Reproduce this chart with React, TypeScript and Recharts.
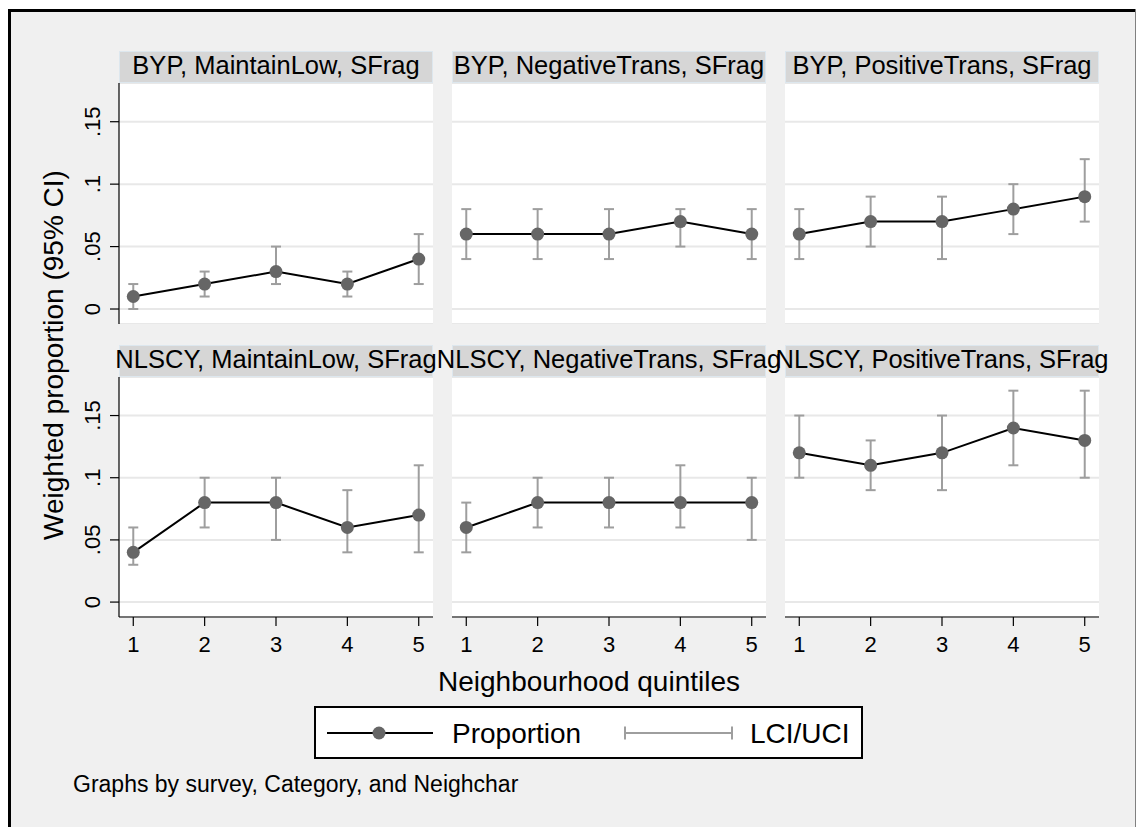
import React from 'react';
import { ComposedChart, Line, Scatter, ErrorBar, XAxis, YAxis, CartesianGrid } from 'recharts';

const FONT = '"Liberation Sans", Arial, Helvetica, sans-serif';

const quintiles = [1, 2, 3, 4, 5];
const yTicks = [0, 0.05, 0.1, 0.15];
const yTickLabels = ['0', '.05', '.1', '.15'];

const panelTitles = [
  'BYP, MaintainLow, SFrag',
  'BYP, NegativeTrans, SFrag',
  'BYP, PositiveTrans, SFrag',
  'NLSCY, MaintainLow, SFrag',
  'NLSCY, NegativeTrans, SFrag',
  'NLSCY, PositiveTrans, SFrag',
];

// weighted proportions and 95% CI per panel
const bypMaintainLowProp = [0.01, 0.02, 0.03, 0.02, 0.04];
const bypMaintainLowLci = [0.0, 0.01, 0.02, 0.01, 0.02];
const bypMaintainLowUci = [0.02, 0.03, 0.05, 0.03, 0.06];

const bypNegativeTransProp = [0.06, 0.06, 0.06, 0.07, 0.06];
const bypNegativeTransLci = [0.04, 0.04, 0.04, 0.05, 0.04];
const bypNegativeTransUci = [0.08, 0.08, 0.08, 0.08, 0.08];

const bypPositiveTransProp = [0.06, 0.07, 0.07, 0.08, 0.09];
const bypPositiveTransLci = [0.04, 0.05, 0.04, 0.06, 0.07];
const bypPositiveTransUci = [0.08, 0.09, 0.09, 0.1, 0.12];

const nlscyMaintainLowProp = [0.04, 0.08, 0.08, 0.06, 0.07];
const nlscyMaintainLowLci = [0.03, 0.06, 0.05, 0.04, 0.04];
const nlscyMaintainLowUci = [0.06, 0.1, 0.1, 0.09, 0.11];

const nlscyNegativeTransProp = [0.06, 0.08, 0.08, 0.08, 0.08];
const nlscyNegativeTransLci = [0.04, 0.06, 0.06, 0.06, 0.05];
const nlscyNegativeTransUci = [0.08, 0.1, 0.1, 0.11, 0.1];

const nlscyPositiveTransProp = [0.12, 0.11, 0.12, 0.14, 0.13];
const nlscyPositiveTransLci = [0.1, 0.09, 0.09, 0.11, 0.1];
const nlscyPositiveTransUci = [0.15, 0.13, 0.15, 0.17, 0.17];

const panelSeries = [
  [bypMaintainLowProp, bypMaintainLowLci, bypMaintainLowUci],
  [bypNegativeTransProp, bypNegativeTransLci, bypNegativeTransUci],
  [bypPositiveTransProp, bypPositiveTransLci, bypPositiveTransUci],
  [nlscyMaintainLowProp, nlscyMaintainLowLci, nlscyMaintainLowUci],
  [nlscyNegativeTransProp, nlscyNegativeTransLci, nlscyNegativeTransUci],
  [nlscyPositiveTransProp, nlscyPositiveTransLci, nlscyPositiveTransUci],
];

// layout (page pixels)
const colLefts = [119, 452, 785];
const rowTops = [83, 377];
const stripTops = [51, 345];
const plotHeights = [241, 240];
const PLOT_W = 314;
const STRIP_H = 32;
const Y_AXIS_W = 60;
const X_AXIS_H = 50;

const MARKER = '#666666';
const CI_GRAY = '#9e9e9e';

const YTick = (props: any) => {
  const { x, y, payload } = props;
  const i = yTicks.indexOf(payload.value);
  return (
    <text
      x={x}
      y={y}
      transform={`rotate(-90 ${x} ${y})`}
      textAnchor="middle"
      fontSize={22}
      fontFamily={FONT}
      fill="#000"
    >
      {i >= 0 ? yTickLabels[i] : payload.value}
    </text>
  );
};

const Dot = (props: any) => <circle cx={props.cx} cy={props.cy} r={6.5} fill={MARKER} />;
const NoShape = () => <g />;

const Panel = ({ idx }: { idx: number }) => {
  const col = idx % 3;
  const row = Math.floor(idx / 3);
  const showY = col === 0;
  const showX = row === 1;
  const yW = showY ? Y_AXIS_W : 0;
  const xH = showX ? X_AXIS_H : 0;
  const plotH = plotHeights[row];
  const [prop, lci, uci] = panelSeries[idx];
  const data = quintiles.map((q, i) => ({
    q,
    p: prop[i],
    err: [prop[i] - lci[i], uci[i] - prop[i]],
  }));
  const w = PLOT_W + yW;
  const h = plotH + xH;

  return (
    <div style={{ position: 'absolute', left: colLefts[col] - yW, top: rowTops[row], width: w, height: h }}>
      <ComposedChart width={w} height={h} data={data} margin={{ top: 0, right: 0, bottom: 0, left: 0 }}>
        <CartesianGrid vertical={false} stroke="#e8e8e8" strokeWidth={2} fill="#ffffff" fillOpacity={1} />
        <XAxis
          type="number"
          dataKey="q"
          domain={[0.8, 5.2]}
          ticks={quintiles}
          allowDataOverflow
          hide={!showX}
          height={xH}
          tickSize={9}
          tickMargin={10}
          axisLine={{ stroke: '#000', strokeWidth: 1.2 }}
          tickLine={{ stroke: '#000', strokeWidth: 1.2 }}
          tick={{ fill: '#000', fontSize: 22, fontFamily: FONT }}
        />
        <YAxis
          type="number"
          domain={[-0.012, 0.181]}
          ticks={yTicks}
          allowDataOverflow
          hide={!showY}
          width={yW}
          tickSize={9}
          tickMargin={10}
          axisLine={{ stroke: '#000', strokeWidth: 1.2 }}
          tickLine={{ stroke: '#000', strokeWidth: 1.2 }}
          tick={<YTick />}
        />
        <Line type="linear" dataKey="p" stroke="#000" strokeWidth={2} dot={false} isAnimationActive={false} />
        <Scatter dataKey="p" shape={<Dot />} isAnimationActive={false} />
        <Scatter dataKey="p" shape={<NoShape />} isAnimationActive={false}>
          <ErrorBar dataKey="err" direction="y" width={5} stroke={CI_GRAY} strokeWidth={2} isAnimationActive={false} />
        </Scatter>
      </ComposedChart>
    </div>
  );
};

export default function App() {
  return (
    <div style={{ position: 'absolute', left: 0, top: 0, width: 1140, height: 827, overflow: 'hidden', fontFamily: FONT }}>
      <svg width={1140} height={827} style={{ position: 'absolute', left: 0, top: 0 }}>
        {/* graph region */}
        <rect x={8} y={9} width={1128} height={818} fill="#f0f0f0" />
        <line x1={8} y1={10.5} x2={1136} y2={10.5} stroke="#000" strokeWidth={3} />
        <line x1={9.5} y1={9} x2={9.5} y2={827} stroke="#000" strokeWidth={3} />
        <line x1={1135.5} y1={9} x2={1135.5} y2={827} stroke="#808080" strokeWidth={1} />

        {/* strips */}
        {panelTitles.map((t, i) => (
          <rect
            key={`s${i}`}
            x={colLefts[i % 3] + 0.5}
            y={stripTops[Math.floor(i / 3)] + 0.5}
            width={PLOT_W - 1}
            height={STRIP_H - 1}
            fill="#d6d6d6"
            stroke="#dde7ee"
            strokeWidth={1}
          />
        ))}
        {panelTitles.map((t, i) => (
          <text
            key={`t${i}`}
            x={colLefts[i % 3] + PLOT_W / 2}
            y={stripTops[Math.floor(i / 3)] + 23}
            textAnchor="middle"
            fontSize={25.5}
            fontFamily={FONT}
            fill="#000"
          >
            {t}
          </text>
        ))}

        {/* axis titles */}
        <text
          x={63}
          y={355}
          transform="rotate(-90 63 355)"
          textAnchor="middle"
          fontSize={28}
          fontFamily={FONT}
          fill="#000"
        >
          Weighted proportion (95% CI)
        </text>
        <text x={589} y={691} textAnchor="middle" fontSize={28} fontFamily={FONT} fill="#000">
          Neighbourhood quintiles
        </text>

        {/* legend */}
        <rect x={315} y={707} width={547} height={51} fill="#fff" stroke="#000" strokeWidth={2} />
        <line x1={327} y1={733} x2={433} y2={733} stroke="#000" strokeWidth={2} />
        <circle cx={379} cy={733} r={6.5} fill={MARKER} />
        <text x={452} y={743} fontSize={28} fontFamily={FONT} fill="#000">
          Proportion
        </text>
        <line x1={624} y1={733} x2={733} y2={733} stroke={CI_GRAY} strokeWidth={2} />
        <line x1={625} y1={726.5} x2={625} y2={739.5} stroke={CI_GRAY} strokeWidth={2} />
        <line x1={732} y1={726.5} x2={732} y2={739.5} stroke={CI_GRAY} strokeWidth={2} />
        <text x={750} y={743} fontSize={28} fontFamily={FONT} fill="#000">
          LCI/UCI
        </text>

        {/* note */}
        <text x={73} y={792} fontSize={23} fontFamily={FONT} fill="#000">
          Graphs by survey, Category, and Neighchar
        </text>
      </svg>
      {panelTitles.map((t, i) => (
        <Panel key={i} idx={i} />
      ))}
    </div>
  );
}
